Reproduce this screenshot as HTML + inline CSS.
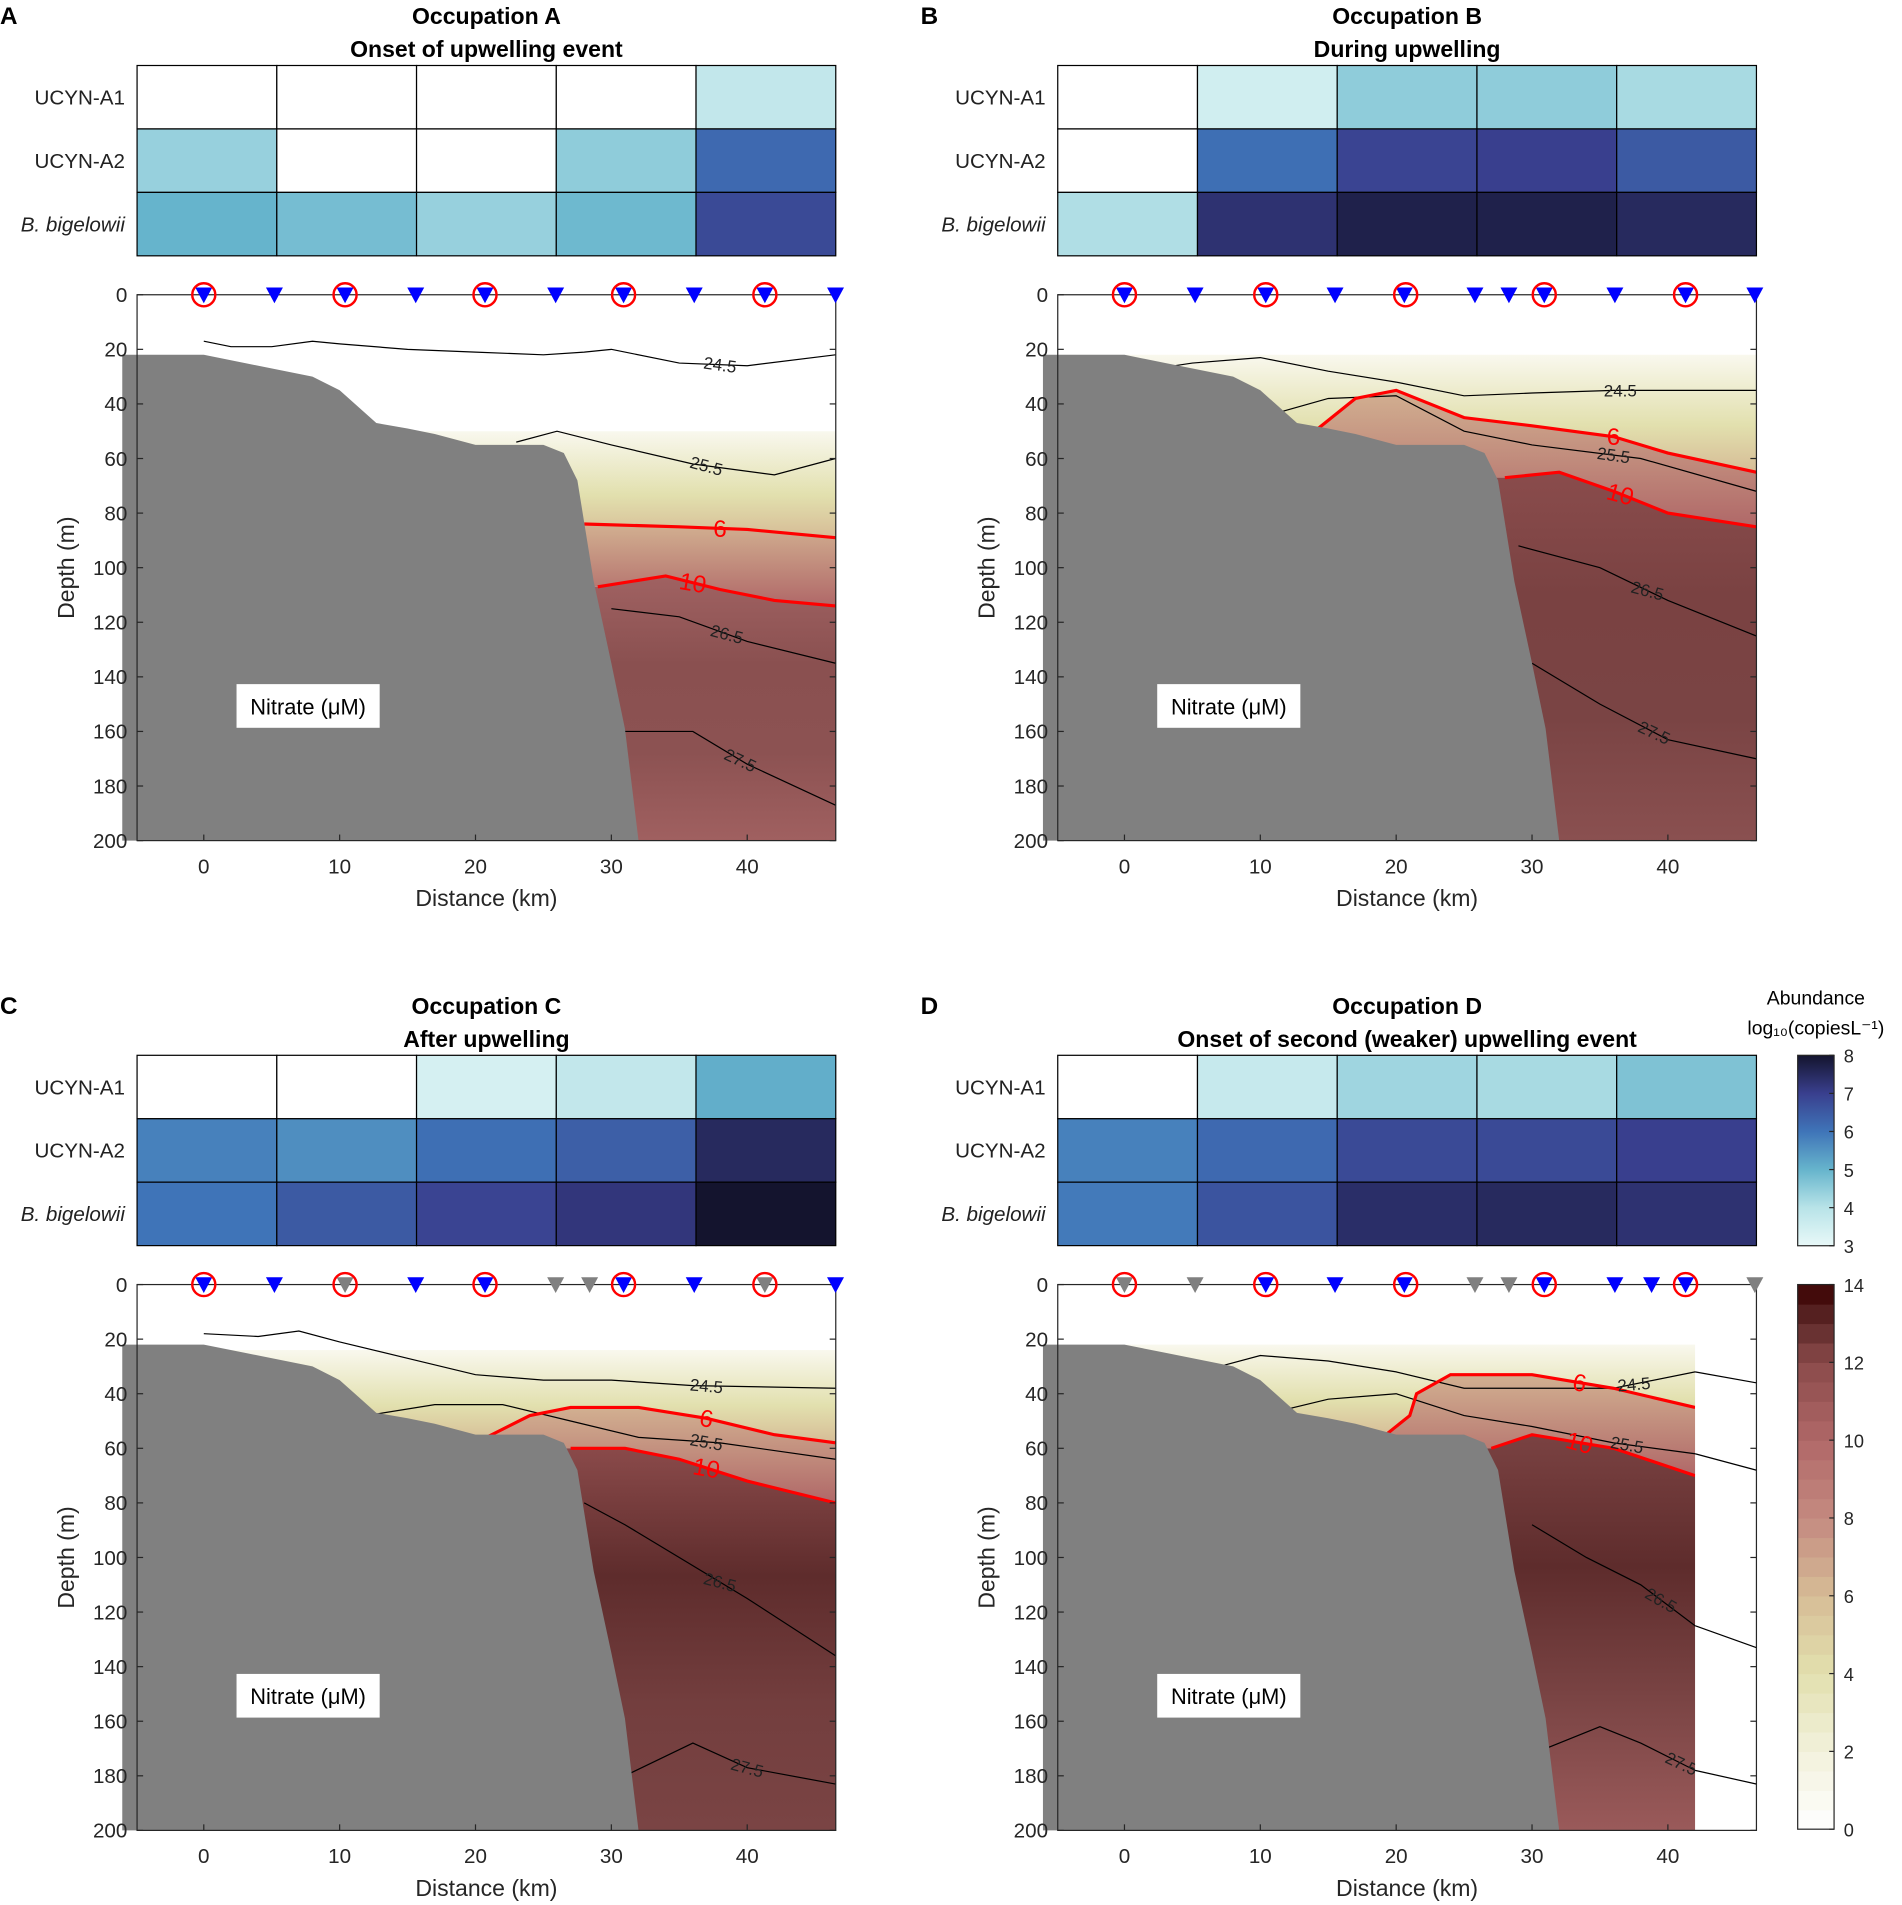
<!DOCTYPE html>
<html><head><meta charset="utf-8"><style>
html,body{margin:0;padding:0;background:#fff}
svg{display:block}
text{font-family:"Liberation Sans",Arial,sans-serif}
</style></head><body>
<svg id="fig" xmlns="http://www.w3.org/2000/svg" width="1902" height="1905" viewBox="0 0 1568 1570.5" preserveAspectRatio="none"></svg>
<script>
// ---------- data ----------
const rowLabels = ["UCYN-A1","UCYN-A2","B. bigelowii"];
const heatA = [[0,0,0,0,3.8],[4.4,0,0,4.5,6.2],[5.0,4.8,4.4,4.9,6.8]];
const heatB = [[0,3.5,4.5,4.5,4.2],[0,6.1,6.9,7.0,6.5],[4.1,7.3,7.7,7.7,7.5]];
const heatC = [[0,0,3.4,3.8,5.1],[5.8,5.6,6.1,6.4,7.5],[6.0,6.5,6.9,7.2,8.1]];
const heatD = [[0,3.7,4.3,4.2,4.7],[5.8,6.2,6.8,6.8,7.0],[5.9,6.6,7.4,7.5,7.3]];

const bathyX = [-5,0,3,8,10,12.7,15,17,20,25,26.5,27.5,28.7,30,31,32];
const bathyD = [22,22,25,30,35,47,49,51,55,55,58,68,105,135,159,200];

const stationsA = [0,5.2,10.4,15.6,20.7,25.9,30.9,36.1,41.3,46.5];
const stationColA = ["b","b","b","b","b","b","b","b","b","b"];
const stationsB = [0,5.2,10.4,15.5,20.6,25.8,28.3,30.9,36.1,41.3,46.4];
const stationColB = ["b","b","b","b","b","b","b","b","b","b","b"];
const stationsC = [0,5.2,10.4,15.6,20.7,25.9,28.4,30.9,36.1,41.3,46.5];
const stationColC = ["b","b","g","b","b","g","g","b","b","g","b"];
const stationsD = [0,5.2,10.4,15.5,20.6,25.8,28.3,30.9,36.1,38.8,41.3,46.4];
const stationColD = ["g","g","b","b","b","g","g","b","b","b","b","g"];
const circles = [0,10.4,20.7,30.9,41.3];

const A245 = [[0,2,5,8,10,15,20,25,28,30,35,40,46.5],[17,19,19,17,18,20,21,22,21,20,25,26,22]];
const A255 = [[23,26,30,36,42,46.5],[54,50,55,62,66,60]];
const A265 = [[30,35,40,46.5],[115,118,127,135]];
const A275 = [[31,36,40,46.5],[160,160,172,187]];
const A6 = [[28,35,40,46.5],[84,85,86,89]];
const A10 = [[29,34,38,42,46.5],[107,103,108,112,114]];
const Atop = 50;

const B245 = [[1,5,10,15,20,25,30,36,46.5],[28,25,23,28,32,37,36,35,35]];
const B255 = [[10,15,20,25,30,38,46.5],[45,38,37,50,55,60,72]];
const B265 = [[29,35,40,46.5],[92,100,112,125]];
const B275 = [[30,35,40,46.5],[135,150,163,170]];
const B6 = [[14,17,20,25,30,36,40,46.5],[50,38,35,45,48,52,58,65]];
const B10 = [[28,32,36,40,46.5],[67,65,72,80,85]];
const Btop = 22;

const C245 = [[0,4,7,10,15,20,25,30,36,46.5],[18,19,17,21,27,33,35,35,37,38]];
const C255 = [[12,17,22,27,32,38,46.5],[48,44,44,50,56,58,64]];
const C265 = [[28,31,35,40,46.5],[80,88,100,115,136]];
const C275 = [[31,36,40,46.5],[180,168,177,183]];
const C6 = [[20,24,27,32,37,42,46.5],[58,48,45,45,49,55,58]];
const C10 = [[27,31,35,40,46.5],[60,60,64,72,80]];
const Ctop = 24;

const D245 = [[7,10,15,20,25,30,36,42,46.5],[30,26,28,32,38,38,38,32,36]];
const D255 = [[10,15,20,25,30,36,42,46.5],[48,42,40,48,52,58,62,68]];
const D265 = [[30,34,38,42,46.5],[88,100,110,125,133]];
const D275 = [[31,35,38,42,46.5],[170,162,168,178,183]];
const D6 = [[19,21,21.5,24,30,36,42],[56,48,40,33,33,38,45]];
const D10 = [[27,30,36,42],[60,55,60,70]];
const Dtop = 22;

const yTicks = [0,20,40,60,80,100,120,140,160,180,200];
const xTicks = [0,10,20,30,40];
const abTicks = [3,4,5,6,7,8];
const nitTicks = [0,2,4,6,8,10,12,14];

// ---------- helpers ----------
const NS="http://www.w3.org/2000/svg";
const svg=document.getElementById('fig');
function mk(tag,attrs,parent){const e=document.createElementNS(NS,tag);for(const k in attrs)e.setAttribute(k,attrs[k]);(parent||svg).appendChild(e);return e;}
function txt(x,y,s,attrs,parent){const e=mk('text',Object.assign({x:x,y:y},attrs||{}),parent);e.textContent=s;return e;}
function lerp(a,b,t){return a+(b-a)*t;}
function hex(c){return [parseInt(c.substr(1,2),16),parseInt(c.substr(3,2),16),parseInt(c.substr(5,2),16)];}
const abStops=[[3,'#e8f8f8'],[4,'#b8e3e8'],[5,'#66b4cc'],[6,'#3f74b8'],[7,'#393f8e'],[8,'#14142e']];
function abColor(v){
  if(v<=0) return '#ffffff';
  v=Math.max(3,Math.min(8.2,v));
  for(let i=0;i<abStops.length-1;i++){
    if(v<=abStops[i+1][0]||i==abStops.length-2){
      const t=Math.min(1,(v-abStops[i][0])/(abStops[i+1][0]-abStops[i][0]));
      const a=hex(abStops[i][1]),b=hex(abStops[i+1][1]);
      return 'rgb('+[0,1,2].map(k=>Math.round(lerp(a[k],b[k],t))).join(',')+')';
    }
  }
}
const nitStops=[[0,'#ffffff'],[2,'#f2f1dc'],[4,'#e2e0ae'],[6,'#d6bc96'],[8,'#c48a80'],[10,'#b06868'],[12,'#8a4a4a'],[13,'#5e2a2a'],[14,'#3a0000']];
function nitColor(v){
  for(let i=0;i<nitStops.length-1;i++){
    if(v<=nitStops[i+1][0]){
      const t=(v-nitStops[i][0])/(nitStops[i+1][0]-nitStops[i][0]);
      const a=hex(nitStops[i][1]),b=hex(nitStops[i+1][1]);
      return 'rgb('+[0,1,2].map(k=>Math.round(lerp(a[k],b[k],t))).join(',')+')';
    }
  }
  return nitStops[nitStops.length-1][1];
}

// ---------- panel ----------
function panel(cfg){
  const ox=cfg.ox, oy=cfg.oy;
  const g=mk('g',{});
  
  
  const L=113+ox, R=689+ox, T=243+oy, B=693+oy;
  const xs=d=>168+ox+d*11.2;
  const ys=z=>T+z*2.25;
  const lt=txt(ox+0,oy+20,cfg.key,{'font-size':20,'font-weight':'bold'},g);
  
  const t1=txt(401+ox,oy+cfg.tY,cfg.t1,{'font-size':19,'font-weight':'bold','text-anchor':'middle'},g);
  
  const t2=txt(401+ox,oy+cfg.tY+27,cfg.t2,{'font-size':19,'font-weight':'bold','text-anchor':'middle'},g);
  
  const hx=113+ox, hy=54+oy, cw=115.2, rh=52.3;
  const hm=mk('g',{},g);
  
  cfg.heat.forEach((row,r)=>{
    row.forEach((v,c)=>{
      const cell=mk('rect',{x:hx+c*cw,y:hy+r*rh,width:cw,height:rh,fill:abColor(v),stroke:'#000','stroke-width':1},hm);
      
    });
    const lab=txt(hx-10,hy+r*rh+rh/2+6,rowLabels[r],{'font-size':17,'text-anchor':'end','fill':'#222','font-style':r==2?'italic':'normal'},hm);
    
  });
  const cid='clip'+cfg.key;
  const cp=mk('clipPath',{id:cid},g);
  mk('rect',{x:L,y:T,width:xs(cfg.xmax)-L,height:B-T},cp);
  const field=mk('g',{'clip-path':'url(#'+cid+')'},g);
  
  function lineY(arr,d){const X=arr[0],D=arr[1];if(d<=X[0])return D[0];for(let i=0;i<X.length-1;i++)if(d<=X[i+1])return lerp(D[i],D[i+1],(d-X[i])/(X[i+1]-X[i]));return D[D.length-1];}
  const samp=[];for(let d=-5;d<=47;d+=0.5)samp.push(d);
  function bandPath(topF,botF){let p='';samp.forEach((d,i)=>{p+=(i?'L':'M')+xs(d)+','+ys(topF(d));});for(let i=samp.length-1;i>=0;i--)p+='L'+xs(samp[i])+','+ys(botF(samp[i]));return p+'Z';}
  const top=d=>cfg.top, six=d=>Math.max(cfg.top,lineY(cfg.c6,d)), ten=d=>Math.max(six(d),lineY(cfg.c10,d));
  const gid='gr'+cfg.key;
  const defs=mk('defs',{},g);
  const lg=mk('linearGradient',{id:gid+'1',x1:0,y1:0,x2:0,y2:1},defs);
  mk('stop',{offset:0,'stop-color':nitColor(1)},lg);mk('stop',{offset:0.6,'stop-color':nitColor(4)},lg);mk('stop',{offset:1,'stop-color':nitColor(6)},lg);
  const lg2=mk('linearGradient',{id:gid+'2',x1:0,y1:0,x2:0,y2:1},defs);
  mk('stop',{offset:0,'stop-color':nitColor(6.5)},lg2);mk('stop',{offset:1,'stop-color':nitColor(10)},lg2);
  const lg3=mk('linearGradient',{id:gid+'3',x1:0,y1:0,x2:0,y2:1},defs);
  cfg.deep.forEach((c,i)=>mk('stop',{offset:i/(cfg.deep.length-1),'stop-color':c},lg3));
  const b1=mk('path',{d:bandPath(top,six),fill:'url(#'+gid+'1)'},field);
  const b2=mk('path',{d:bandPath(six,ten),fill:'url(#'+gid+'2)'},field);
  const b3=mk('path',{d:bandPath(ten,d=>200),fill:'url(#'+gid+'3)'},field);
  function pl(arr,col,w,name){let p='';arr[0].forEach((d,i)=>{p+=(i?'L':'M')+xs(d).toFixed(1)+','+ys(arr[1][i]).toFixed(1);});const e=mk('path',{d:p,fill:'none',stroke:col,'stroke-width':w},field);}
  pl(cfg.c245,'#000',1,'isopycnal-24-5');pl(cfg.c255,'#000',1,'isopycnal-25-5');pl(cfg.c265,'#000',1,'isopycnal-26-5');pl(cfg.c275,'#000',1,'isopycnal-27-5');
  pl(cfg.c6,'#f00',2.6,'nitrate-contour-6');pl(cfg.c10,'#f00',2.6,'nitrate-contour-10');
  cfg.labels.forEach(l=>{const arr=l[1];const x=xs(l[0]),y=ys(lineY(arr,l[0]));const red=l[2].length<=2;
    const e=txt(x,y+(red?7:5),l[2],{'font-size':red?20:14,'fill':red?'#f00':'#222','text-anchor':'middle',transform:'rotate('+l[3]+' '+x+' '+y+')'},field);
    });
  let bp='M'+xs(-6)+','+ys(bathyD[0]);bathyX.forEach((d,i)=>{bp+='L'+xs(d)+','+ys(bathyD[i]);});bp+='L'+xs(-6)+','+ys(200)+'Z';
  const bt=mk('path',{d:bp,fill:'#808080'},g);
  const ax=mk('rect',{x:L,y:T,width:R-L,height:B-T,fill:'none',stroke:'#262626','stroke-width':1},g);
  
  yTicks.forEach(v=>{mk('line',{x1:L,x2:L+5,y1:ys(v),y2:ys(v),stroke:'#262626'},g);mk('line',{x1:R,x2:R-5,y1:ys(v),y2:ys(v),stroke:'#262626'},g);
    const e=txt(L-8,ys(v)+6,String(v),{'font-size':17,'text-anchor':'end','fill':'#262626'},g);});
  xTicks.forEach(v=>{mk('line',{x1:xs(v),x2:xs(v),y1:B,y2:B-5,stroke:'#262626'},g);
    const e=txt(xs(v),B+27,String(v),{'font-size':17,'text-anchor':'middle','fill':'#262626'},g);});
  const xl=txt(401+ox,B+54,'Distance (km)',{'font-size':19,'text-anchor':'middle','fill':'#262626'},g);
  const yl=txt(61+ox,(T+B)/2,'Depth (m)',{'font-size':19,'text-anchor':'middle','fill':'#262626',transform:'rotate(-90 '+(61+ox)+' '+(T+B)/2+')'},g);
  cfg.st.forEach((d,i)=>{const x=xs(d),y=T;const col=cfg.stc[i]=='b'?'#0000ff':'#808080';
    const e=mk('path',{d:'M'+(x-7)+','+(y-6)+'L'+(x+7)+','+(y-6)+'L'+x+','+(y+7)+'Z',fill:col},g);});
  circles.forEach(d=>{const e=mk('circle',{cx:xs(d),cy:T,r:9.5,fill:'none',stroke:'#f00','stroke-width':2},g);});
  const nb=mk('rect',{x:195+ox,y:564+oy,width:118,height:36,fill:'#fff'},g);
  const nt=txt(254+ox,589+oy,'Nitrate (μM)',{'font-size':18,'text-anchor':'middle'},g);
}

panel({key:'A',ox:0,oy:0,tY:20,t1:'Occupation A',t2:'Onset of upwelling event',heat:heatA,xmax:46.5,top:Atop,
  c245:A245,c255:A255,c265:A265,c275:A275,c6:A6,c10:A10,deep:['#a06262','#8a5050','#8c5252','#a06060'],
  st:stationsA,stc:stationColA,labels:[[38,A245,'24.5',8],[37,A255,'25.5',15],[38,A6,'6',0],[36,A10,'10',10],[38.5,A265,'26.5',15],[39.5,A275,'27.5',25]]});
panel({key:'B',ox:759,oy:0,tY:20,t1:'Occupation B',t2:'During upwelling',heat:heatB,xmax:46.5,top:Btop,
  c245:B245,c255:B255,c265:B265,c275:B275,c6:B6,c10:B10,deep:['#8a4c4c','#7a4242','#7a4444','#8a5050'],
  st:stationsB,stc:stationColB,labels:[[36.5,B245,'24.5',0],[36,B6,'6',0],[36,B255,'25.5',8],[36.5,B10,'10',15],[38.5,B265,'26.5',15],[39,B275,'27.5',25]]});
panel({key:'C',ox:0,oy:816,tY:20,t1:'Occupation C',t2:'After upwelling',heat:heatC,xmax:46.5,top:Ctop,
  c245:C245,c255:C255,c265:C265,c275:C275,c6:C6,c10:C10,deep:['#8a4a4a','#5e2c2c','#733e3e','#7a4444'],
  st:stationsC,stc:stationColC,labels:[[37,C245,'24.5',5],[37,C6,'6',10],[37,C255,'25.5',10],[37,C10,'10',10],[38,C265,'26.5',15],[40,C275,'27.5',15]]});
panel({key:'D',ox:759,oy:816,tY:20,t1:'Occupation D',t2:'Onset of second (weaker) upwelling event',heat:heatD,xmax:42,top:Dtop,
  c245:D245,c255:D255,c265:D265,c275:D275,c6:D6,c10:D10,deep:['#7a4242','#5e2c2c','#7a4444','#9a5a5a'],
  st:stationsD,stc:stationColD,labels:[[33.5,D6,'6',10],[37.5,D245,'24.5',-5],[37,D255,'25.5',10],[33.5,D10,'10',15],[39.5,D265,'26.5',30],[41,D275,'27.5',25]]});
(function(){const ox=759,oy=816;const xs=d=>168+ox+d*11.2,ys=z=>243+oy+z*2.25;
  [[D245],[D255],[D265],[D275]].forEach(a=>{const arr=a[0];let p='';let st=false;arr[0].forEach((d,i)=>{if(d>=42){p+=(st?'L':'M')+xs(d)+','+ys(arr[1][i]);st=true;}});
    const i=arr[0].findIndex(d=>d>=42);const x0=arr[0][i-1],x1=arr[0][i];const y0=arr[1][i-1],y1=arr[1][i];
    const e=mk('path',{d:'M'+xs(42)+','+ys(y0+(y1-y0)*(42-x0)/(x1-x0))+'L'+p.slice(1),fill:'none',stroke:'#000','stroke-width':1});
    });
})();

(function(){
  const cx=1482,cw=30;
  const t=txt(1497,828,'Abundance',{'font-size':16,'text-anchor':'middle'});
  const t2=txt(1497,853,'log₁₀(copiesL⁻¹)',{'font-size':16,'text-anchor':'middle'});
  const y0=870,y1=1027;
  const gd=mk('defs',{});const lg=mk('linearGradient',{id:'abg',x1:0,y1:1,x2:0,y2:0},gd);
  for(let v=3;v<=8.001;v+=0.5)mk('stop',{offset:(v-3)/5,'stop-color':abColor(v)},lg);
  const r=mk('rect',{x:cx,y:y0,width:cw,height:y1-y0,fill:'url(#abg)',stroke:'#262626'});
  abTicks.forEach(v=>{const y=y1-(v-3)/5*(y1-y0);mk('line',{x1:cx+cw-4,x2:cx+cw,y1:y,y2:y,stroke:'#262626'});
    const e=txt(cx+cw+8,y+6,String(v),{'font-size':15,'fill':'#262626'});});
  const n0=1059,n1=1508;const nb=mk('g',{});
  for(let v=0;v<14;v+=0.5){const y=n1-(v+0.5)/14*(n1-n0);mk('rect',{x:cx,y:y,width:cw,height:(n1-n0)/28+0.5,fill:nitColor(v+0.25)},nb);}
  mk('rect',{x:cx,y:n0,width:cw,height:n1-n0,fill:'none',stroke:'#262626'},nb);
  nitTicks.forEach(v=>{const y=n1-v/14*(n1-n0);mk('line',{x1:cx+cw-4,x2:cx+cw,y1:y,y2:y,stroke:'#262626'});
    const e=txt(cx+cw+8,y+6,String(v),{'font-size':15,'fill':'#262626'});});
})();
</script>
</body></html>
